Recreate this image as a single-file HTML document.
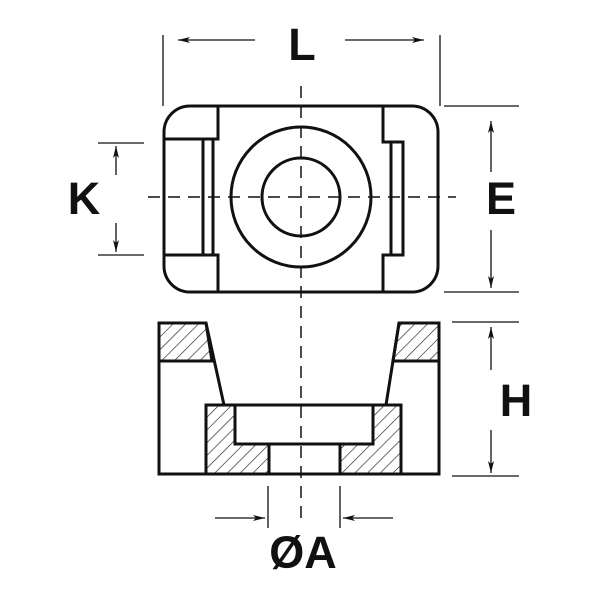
<!DOCTYPE html>
<html><head><style>html,body{margin:0;padding:0;background:#fff}svg{display:block}</style></head>
<body>
<svg width="600" height="600" viewBox="0 0 600 600" xmlns="http://www.w3.org/2000/svg">
<defs>
<marker id="ah" viewBox="0 0 12 6" refX="12" refY="3" markerWidth="12" markerHeight="6" markerUnits="userSpaceOnUse" orient="auto">
<path d="M0,0 L12,3 L0,6 L3,3 Z" fill="#111"/></marker>
<pattern id="hat" patternUnits="userSpaceOnUse" width="9" height="9" patternTransform="rotate(45)">
<rect width="9" height="9" fill="#fff"/><line x1="0" y1="0" x2="0" y2="9" stroke="#222" stroke-width="1.3"/></pattern>
</defs>
<g stroke="#111" fill="none">
<!-- center lines -->
<line x1="301" y1="86" x2="301" y2="522" stroke-width="1.5" stroke-dasharray="12,8"/>
<line x1="148" y1="197" x2="456" y2="197" stroke-width="1.5" stroke-dasharray="12,8"/>
<!-- dims thin -->
<g stroke-width="1.3">
<line x1="163" y1="35" x2="163" y2="106"/><line x1="440" y1="35" x2="440" y2="106"/>
<line x1="255" y1="40" x2="178" y2="40" marker-end="url(#ah)"/>
<line x1="345" y1="40" x2="424" y2="40" marker-end="url(#ah)"/>
<line x1="98" y1="143" x2="144" y2="143"/><line x1="98" y1="255" x2="144" y2="255"/>
<line x1="116" y1="175" x2="116" y2="146" marker-end="url(#ah)"/>
<line x1="116" y1="223" x2="116" y2="252" marker-end="url(#ah)"/>
<line x1="444" y1="106" x2="519" y2="106"/><line x1="444" y1="292" x2="519" y2="292"/>
<line x1="491" y1="172" x2="491" y2="121" marker-end="url(#ah)"/>
<line x1="491" y1="230" x2="491" y2="288" marker-end="url(#ah)"/>
<line x1="452" y1="322" x2="519" y2="322"/><line x1="452" y1="476" x2="519" y2="476"/>
<line x1="491" y1="370" x2="491" y2="327" marker-end="url(#ah)"/>
<line x1="491" y1="430" x2="491" y2="473" marker-end="url(#ah)"/>
<line x1="268" y1="486" x2="268" y2="528"/><line x1="340" y1="486" x2="340" y2="528"/>
<line x1="215" y1="518" x2="265" y2="518" marker-end="url(#ah)"/>
<line x1="393" y1="518" x2="343" y2="518" marker-end="url(#ah)"/>
</g>
<!-- top view -->
<g stroke-width="3">
<rect x="164" y="106" width="274" height="186" rx="26"/>
<path d="M218,107 V139 H165 M203,139 V255 M213,139 V255 M165,255 H218 V291"/>
<path d="M383,107 V142 H403 V255 H383 V291 M391,142 V255"/>
<circle cx="301" cy="197" r="70"/>
<circle cx="301" cy="197" r="39"/>
</g>
<!-- side view -->
<g stroke-width="3">
<path d="M159,323 H206 L212,361 H159 Z" fill="url(#hat)"/>
<path d="M399,323 H439 V361 H393 Z" fill="url(#hat)"/>
<path d="M206,405 H235 V444 H269 V474 H206 Z" fill="url(#hat)"/>
<path d="M373,405 H401 V474 H340 V444 H373 Z" fill="url(#hat)"/>
<path d="M159,323 V474 H439 V323"/>
<path d="M206,323 L224,405 M399,323 L386,405"/>
<rect x="206" y="405" width="195" height="69"/>
<path d="M235,405 V444 H373 V405 M269,444 V474 M340,444 V474"/>
</g>
</g>
<g font-family="Liberation Sans, sans-serif" font-weight="bold" font-size="45" fill="#111" text-anchor="middle">
<text x="302" y="60">L</text>
<text x="84" y="214">K</text>
<text x="501" y="214">E</text>
<text x="516" y="416">H</text>
<text x="303" y="568">ØA</text>
</g>
</svg>
</body></html>
